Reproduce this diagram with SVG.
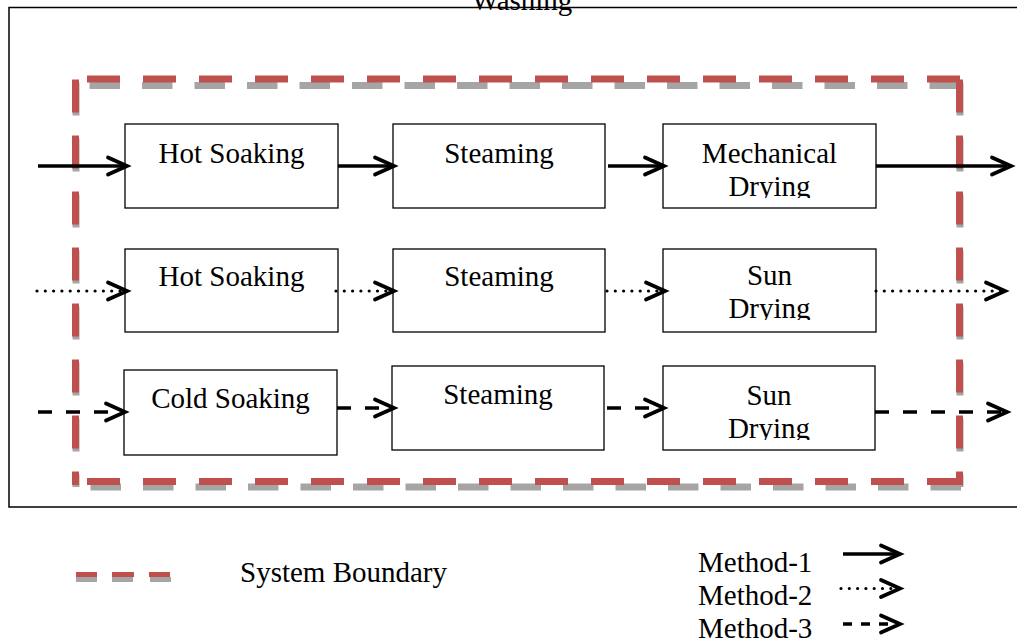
<svg xmlns="http://www.w3.org/2000/svg" width="1017" height="642" viewBox="0 0 1017 642">
  <style>
    .lbl { font-family: "Liberation Serif", "Times New Roman", serif; font-size: 29px; fill: #000; }
    .mid { text-anchor: middle; }
    .box { fill: #fff; stroke: #000; stroke-width: 1.3; }
    .frame { fill: none; stroke: #000; stroke-width: 1.5; }
    .sbRed { fill: none; stroke: #C0504D; stroke-width: 7; stroke-dasharray: 33 23; }
    .sbGray { fill: none; stroke: #A5A5A5; stroke-width: 7; stroke-dasharray: 30.5 22; }
    .sbGrayV { fill: none; stroke: #A5A5A5; stroke-width: 7; stroke-dasharray: 33 23; }
    .solid { fill: none; stroke: #000; stroke-width: 3.6; marker-end: url(#head); }
    .dotted { fill: none; stroke: #000; stroke-width: 3.2; stroke-linecap: round; stroke-dasharray: 0 8.3; marker-end: url(#head); }
    .dashed { fill: none; stroke: #000; stroke-width: 3.6; stroke-dasharray: 14 14; marker-end: url(#head); }
  </style>
  <defs>
    <marker id="head" markerUnits="userSpaceOnUse" markerWidth="30" markerHeight="30" refX="0" refY="0" orient="auto" overflow="visible">
      <path d="M-19,-8.5 L0,0 L-19,8.5" fill="none" stroke="#000" stroke-width="3.8" stroke-linecap="round" stroke-linejoin="miter"/>
    </marker>
    <clipPath id="clipR1"><rect x="663" y="124" width="213" height="74"/></clipPath>
    <clipPath id="clipR2"><rect x="663" y="249" width="213" height="71"/></clipPath>
    <clipPath id="clipR3"><rect x="663" y="366" width="212" height="74"/></clipPath>
  </defs>

  <rect width="1017" height="642" fill="#fff"/>

  <!-- outer frame with the partly visible Washing title -->
  <g id="outer">
    <text class="lbl mid" x="522" y="10">Washing</text>
    <path class="frame" d="M1020,7.5 H9 V507 H1020"/>
  </g>

  <!-- system boundary: grey shadow under the red dashed outline -->
  <g id="system-boundary">
    <path class="sbGray" d="M960,85.5 H78"/>
    <path class="sbGray" d="M961,487 H78"/>
    <path class="sbGrayV" d="M76,82.5 V487"/>
    <path class="sbGrayV" d="M960,82.5 V487"/>
    <path class="sbRed" d="M960,79 H76"/>
    <path class="sbRed" d="M960,481.5 H76"/>
    <path class="sbRed" d="M75.5,79.5 V485"/>
    <path class="sbRed" d="M959.5,79.5 V485"/>
  </g>

  <!-- method 1 -->
  <g id="m1-hot-soaking">
    <rect class="box" x="125" y="124" width="213" height="84"/>
    <text class="lbl mid" x="231.5" y="163">Hot Soaking</text>
  </g>
  <g id="m1-steaming">
    <rect class="box" x="393" y="124" width="212" height="84"/>
    <text class="lbl mid" x="499" y="163">Steaming</text>
  </g>
  <g id="m1-mechanical-drying">
    <rect class="box" x="663" y="124" width="213" height="84"/>
    <g clip-path="url(#clipR1)">
      <text class="lbl mid" x="769.5" y="163">Mechanical</text>
      <text class="lbl mid" x="769.5" y="196">Drying</text>
    </g>
  </g>

  <!-- method 2 -->
  <g id="m2-hot-soaking">
    <rect class="box" x="125" y="249" width="213" height="83"/>
    <text class="lbl mid" x="231.5" y="286">Hot Soaking</text>
  </g>
  <g id="m2-steaming">
    <rect class="box" x="393" y="249" width="212" height="83"/>
    <text class="lbl mid" x="499" y="286">Steaming</text>
  </g>
  <g id="m2-sun-drying">
    <rect class="box" x="663" y="249" width="213" height="83"/>
    <g clip-path="url(#clipR2)">
      <text class="lbl mid" x="769.5" y="285">Sun</text>
      <text class="lbl mid" x="769.5" y="318">Drying</text>
    </g>
  </g>

  <!-- method 3 -->
  <g id="m3-cold-soaking">
    <rect class="box" x="124" y="370" width="213" height="85"/>
    <text class="lbl mid" x="230.5" y="408">Cold Soaking</text>
  </g>
  <g id="m3-steaming">
    <rect class="box" x="392" y="366" width="212" height="84"/>
    <text class="lbl mid" x="498" y="404">Steaming</text>
  </g>
  <g id="m3-sun-drying">
    <rect class="box" x="663" y="366" width="212" height="84"/>
    <g clip-path="url(#clipR3)">
      <text class="lbl mid" x="769" y="405">Sun</text>
      <text class="lbl mid" x="769" y="438">Drying</text>
    </g>
  </g>

  <!-- flow connectors -->
  <g id="connectors">
    <path class="solid" d="M38,166 H127"/>
    <path class="solid" d="M338,166 H394"/>
    <path class="solid" d="M608,166 H664"/>
    <path class="solid" d="M876,166 H1011"/>

    <path class="dotted" d="M37,291 H127"/>
    <path class="dotted" d="M336,291 H394"/>
    <path class="dotted" d="M607,291 H665"/>
    <path class="dotted" d="M876,291 H1005"/>

    <path class="dashed" d="M38,412 H125"/>
    <path class="dashed" d="M337,408 H394"/>
    <path class="dashed" d="M607,408 H664"/>
    <path class="dashed" d="M875,412 H1007"/>
  </g>

  <!-- legend -->
  <g id="legend-boundary">
    <path d="M76,579.5 H171" fill="none" stroke="#A5A5A5" stroke-width="5" stroke-dasharray="21 15 21 17"/>
    <path d="M76,574.5 H171" fill="none" stroke="#C0504D" stroke-width="5" stroke-dasharray="21 15 22 15"/>
    <text class="lbl" x="240" y="582">System Boundary</text>
  </g>
  <g id="legend-methods">
    <text class="lbl" x="698" y="572">Method-1</text>
    <text class="lbl" x="698" y="605">Method-2</text>
    <text class="lbl" x="698" y="638">Method-3</text>
    <path class="solid" d="M843,554 H900"/>
    <path class="dotted" d="M841,588.5 H900"/>
    <path d="M843,624 H900" fill="none" stroke="#000" stroke-width="3.6" stroke-dasharray="9 9" marker-end="url(#head)"/>
  </g>
</svg>
